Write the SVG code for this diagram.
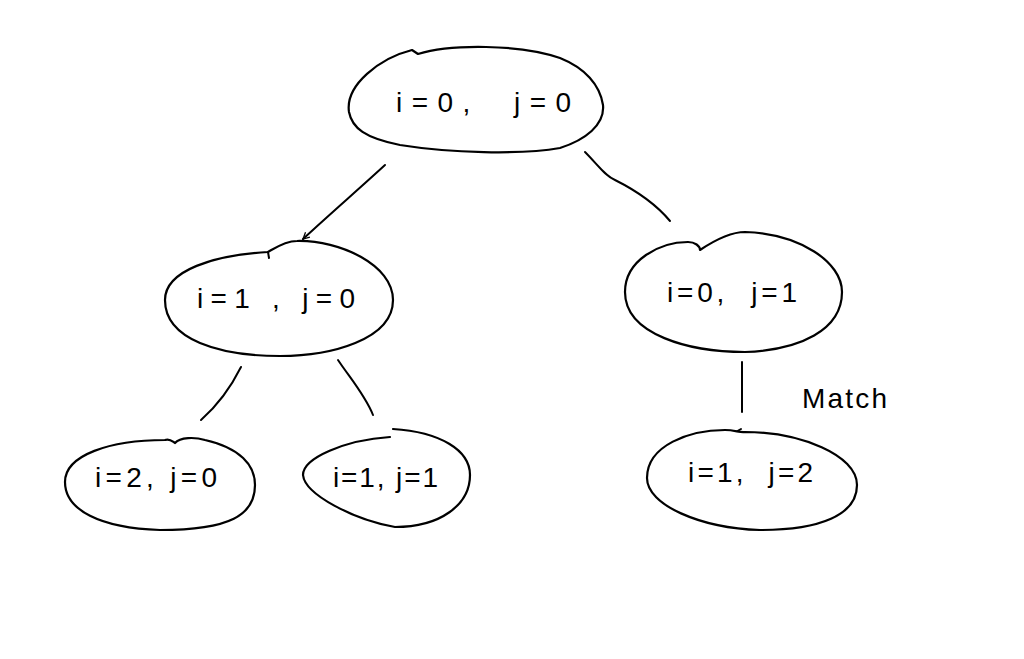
<svg xmlns="http://www.w3.org/2000/svg" width="1024" height="659" viewBox="0 0 1024 659">
<style>
.n{fill:#fff;stroke:#000;stroke-width:2.2;stroke-linejoin:round;stroke-linecap:round}
.c{fill:none;stroke:#000;stroke-width:2;stroke-linecap:round}
.t{font-family:"Liberation Sans",Arial,sans-serif;font-size:28px;fill:#000}
</style>
<defs>
<marker id="ah" viewBox="0 0 10 10" refX="9" refY="5" markerWidth="8" markerHeight="8" markerUnits="userSpaceOnUse" orient="auto">
<path d="M1 1 L9 5 L1 9" fill="none" stroke="#000" stroke-width="1.6"/>
</marker>
</defs>
<rect width="1024" height="659" fill="#fff"/>
<g id="connectors">
<path class="c" d="M385 165 C360 188 330 214 303 239" marker-end="url(#ah)"/>
<path class="c" d="M585 152 C598 165 605 176 615 180 C635 190 655 203 670 221"/>
<path class="c" d="M241 367 C232 385 218 405 201 420"/>
<path class="c" d="M338 360 C350 378 365 395 373 415"/>
<path class="c" d="M742 362 L742 412"/>
<path class="c" d="M741 429 L736 432 L743 433" stroke-width="1.6"/>
</g>
<g id="n00">
<path class="n" d="M349 112 C345 85 380 58 412 50 L418 54 C450 44 520 44 560 58 C585 68 600 85 603 105 C605 125 585 140 560 148 C520 155 450 153 400 145 C365 138 352 128 349 112 Z"/>
<text class="t" x="396" y="112" textLength="175" lengthAdjust="spacing" xml:space="preserve">i=0,  j=0</text>
</g>
<g id="n10">
<path class="n" d="M165 300 C165 270 215 255 268 252 C275 248 285 241 297 241 C340 240 393 265 393 300 C393 340 330 356 280 356 C220 356 165 340 165 300 Z"/>
<path class="c" d="M268 252 L269 258" stroke-width="1.6"/>
<text class="t" x="197" y="308" textLength="158" lengthAdjust="spacing" xml:space="preserve">i=1 , j=0</text>
</g>
<g id="n01">
<path class="n" d="M625 292 C625 260 660 242 688 242 C695 242 700 246 700 250 C715 240 730 232 745 232 C800 234 842 262 842 292 C842 330 800 350 745 352 C690 352 625 335 625 292 Z"/>
<text class="t" x="667" y="302" textLength="130" lengthAdjust="spacing" xml:space="preserve">i=0,  j=1</text>
</g>
<g id="n20">
<path class="n" d="M65 482 C65 455 110 440 165 440 C170 438 173 442 175 443 C180 437 195 437 205 440 C240 448 255 465 255 485 C255 515 230 530 160 530 C100 528 65 510 65 482 Z"/>
<text class="t" x="95" y="487" textLength="122" lengthAdjust="spacing" xml:space="preserve">i=2, j=0</text>
</g>
<g id="n11">
<path class="n" d="M390 437 C345 440 303 458 303 475 C305 495 355 520 395 527 C440 527 470 505 470 475 C470 450 440 432 393 429"/>
<text class="t" x="333" y="487" textLength="105" lengthAdjust="spacing" xml:space="preserve">i=1, j=1</text>
</g>
<g id="n12">
<path class="n" d="M647 478 C647 445 690 430 725 430 C735 430 740 433 745 432 C800 432 857 455 857 485 C857 515 820 530 760 530 C700 528 647 505 647 478 Z"/>
<text class="t" x="688" y="482" textLength="125" lengthAdjust="spacing" xml:space="preserve">i=1,  j=2</text>
</g>
<text class="t" x="802" y="408" font-size="30" textLength="85" lengthAdjust="spacing">Match</text>
</svg>
